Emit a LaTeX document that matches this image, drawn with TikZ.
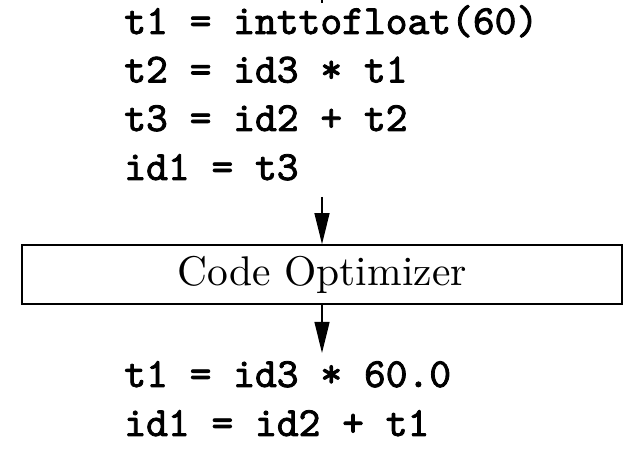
\documentclass[tikz,border=0pt]{standalone}
\usepackage{fontspec}
\newfontfamily\codefont[FakeBold=2]{Latin Modern Mono}
\usetikzlibrary{arrows.meta}
\begin{document}
\begin{tikzpicture}[x=0.241pt,y=-0.241pt,
  codeline/.style={anchor=base west,inner sep=0pt,font=\codefont},
  stagebox/.style={draw,line width=0.4pt,inner sep=0pt,minimum width=144.6pt,minimum height=14.2pt,font=\rmfamily},
  flowarrow/.style={line width=0.4pt,-{Triangle[length=7.5pt,width=3.6pt]}}]
\useasboundingbox (0,0) rectangle (643,449);
% tail of arrow from previous stage (cut off)
\coordinate (prevA) at (322,0);
\coordinate (prevB) at (322,3);
\draw[line width=0.4pt] (prevA) -- (prevB);
% intermediate code
\node[codeline] (a1) at (123.5,34) {t1 = inttofloat(60)};
\node[codeline] (a2) at (123.5,82.5) {t2 = id3 * t1};
\node[codeline] (a3) at (123.5,131) {t3 = id2 + t2};
\node[codeline] (a4) at (123.5,180) {id1 = t3};
% optimizer box
\node[stagebox] (opt) at (322,274.5) {Code Optimizer};
% optimized code
\node[codeline] (b1) at (123.5,387) {t1 = id3 * 60.0};
\node[codeline] (b2) at (123.5,436) {id1 = id2 + t1};
% arrows
\coordinate (inA) at (322,197);
\coordinate (outB) at (322,353);
\draw[flowarrow] (inA) -- (opt.north);
\draw[flowarrow] (opt.south) -- (outB);
\end{tikzpicture}
\end{document}
